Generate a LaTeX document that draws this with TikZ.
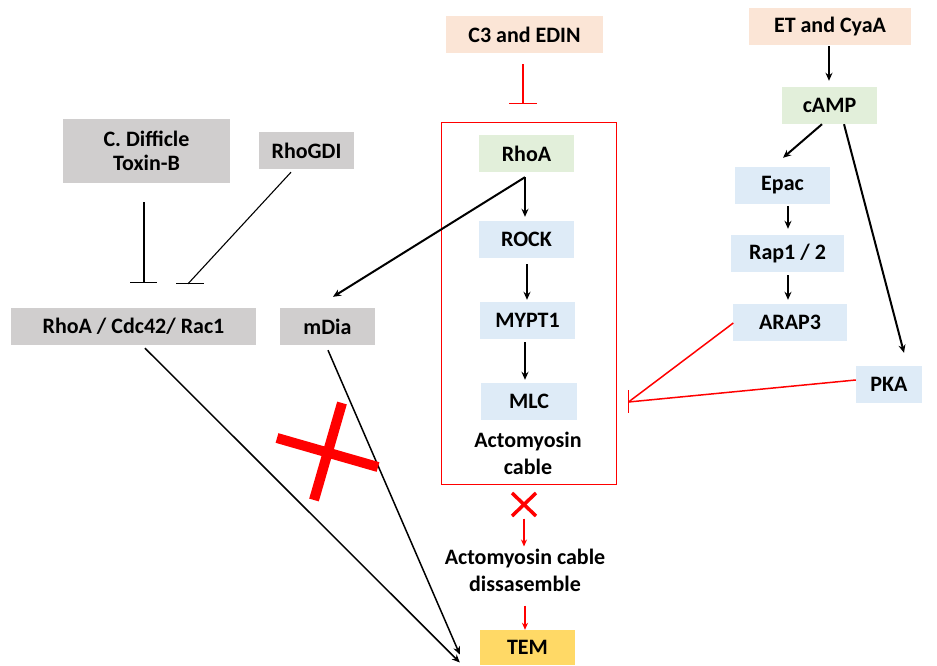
\documentclass[tikz,border=0pt]{standalone}
\usepackage{fontspec}
\setmainfont{Carlito}
\usetikzlibrary{arrows.meta}
\definecolor{gbox}{HTML}{D0CECE}
\definecolor{pbox}{HTML}{FBE5D6}
\definecolor{grbox}{HTML}{E2EFDA}
\definecolor{bbox}{HTML}{DEEBF7}
\definecolor{ybox}{HTML}{FFD966}
\definecolor{myred}{HTML}{FF0000}
\begin{document}
\begin{tikzpicture}[x=1pt,y=-1pt,
  box/.style={inner sep=0pt, minimum height=37pt, font=\fontsize{22}{24}\selectfont\bfseries, align=center},
  lbl/.style={inner sep=0pt, font=\fontsize{22}{27}\selectfont\bfseries, align=center},
  arr/.style={-{Stealth[length=8pt,width=7pt]}, line width=2pt},
  tarr/.style={-{Stealth[length=8pt,width=7pt]}, line width=1.5pt},
  rarr/.style={-{Stealth[length=7pt,width=6pt]}, line width=1.4pt, myred},
  inh/.style={line width=1.1pt},
  rinh/.style={line width=1.5pt, myred},
  bigx/.style={line width=10pt, myred},
  smallx/.style={line width=3.5pt, myred}
]
\useasboundingbox (0,0) rectangle (937,666);
% boxes
\node[box, fill=gbox, minimum width=167pt, minimum height=64pt] (tox) at (146.5,151) {C. Difficle\\Toxin-B};
\node[box, fill=gbox, minimum width=95pt] (gdi) at (306.5,150.5) {RhoGDI};
\node[box, fill=gbox, minimum width=245pt] (rcr) at (133.5,326.5) {RhoA / Cdc42/ Rac1};
\node[box, fill=gbox, minimum width=95pt] (mdia) at (327.5,326.5) {mDia};
\node[box, fill=pbox, minimum width=157pt] (c3) at (524.5,34.5) {C3 and EDIN};
\node[box, fill=grbox, minimum width=95pt] (rhoa) at (526.5,153.5) {RhoA};
\node[box, fill=bbox, minimum width=95pt] (rock) at (526.5,239.5) {ROCK};
\node[box, fill=bbox, minimum width=95pt] (mypt) at (527.5,320.5) {MYPT1};
\node[box, fill=bbox, minimum width=96pt] (mlc) at (529,401.5) {MLC};
\node[lbl] (acto) at (528,453) {Actomyosin\\cable};
\node[draw=myred, line width=1pt, inner sep=0pt, minimum width=175pt, minimum height=361pt] (frame) at (528.5,303.5) {};
\node[box, fill=pbox, minimum width=162pt] (et) at (830,26.5) {ET and CyaA};
\node[box, fill=grbox, minimum width=95pt] (camp) at (829.5,105.5) {cAMP};
\node[box, fill=bbox, minimum width=95pt] (epac) at (782.5,185.5) {Epac};
\node[box, fill=bbox, minimum width=113pt] (rap) at (787.5,253.5) {Rap1 / 2};
\node[box, fill=bbox, minimum width=114pt] (arap) at (790,322.5) {ARAP3};
\node[box, fill=bbox, minimum width=66pt] (pka) at (889,384.5) {PKA};
\node[lbl] (diss) at (525,570) {Actomyosin cable\\dissasemble};
\node[box, fill=ybox, minimum width=95pt, minimum height=35pt] (tem) at (527.5,647.5) {TEM};

% free ends
\coordinate (toxend) at ([xshift=10.5pt,yshift=25pt]rcr.north);
\coordinate (gdiend) at ([xshift=54.5pt,yshift=24pt]rcr.north);
\coordinate (c3end) at ([xshift=-5.5pt,yshift=19pt]frame.north);
\coordinate (inhend) at ([xshift=12pt,yshift=-98.5pt]frame.east);
\coordinate (xc) at ([xshift=-4.5pt,yshift=-20pt]frame.south);

% left inhibitions
\draw[inh] ([xshift=-2.5pt,yshift=-19pt]tox.south) -- (toxend);
\draw[inh] (toxend) ++(-14,0) -- ++(27,0);
\draw[inh] ([xshift=-15.5pt,yshift=-3pt]gdi.south) -- (gdiend);
\draw[inh] (gdiend) ++(-12,0) -- ++(28,0);

% RhoA pathway
\draw[arr] ([xshift=-1.5pt,yshift=-5pt]rhoa.south) -- ([xshift=5.5pt,yshift=11pt]mdia.north);
\draw[arr] ([xshift=-1.5pt,yshift=-5pt]rhoa.south) -- ([xshift=-1.5pt,yshift=4pt]rock.north);
\draw[arr] ([xshift=0.5pt,yshift=-6pt]rock.south) -- ([xshift=-0.5pt,yshift=2pt]mypt.north);
\draw[arr] ([xshift=-2.5pt,yshift=-3pt]mypt.south) -- ([xshift=-4pt,yshift=3pt]mlc.north);

% C3 inhibition
\draw[rinh] ([xshift=-1.5pt,yshift=-11pt]c3.south) -- (c3end);
\draw[rinh] (c3end) ++(-14,0) -- ++(28,0);

% cAMP pathway
\draw[arr] ([xshift=-1pt,yshift=-1pt]et.south) -- ([xshift=-0.5pt,yshift=6pt]camp.north);
\draw[arr] ([xshift=-7.5pt,yshift=0pt]camp.south) -- ([xshift=0.5pt,yshift=9pt]epac.north);
\draw[arr] ([xshift=5.5pt,yshift=-2pt]epac.south) -- ([xshift=0.5pt,yshift=6pt]rap.north);
\draw[arr] ([xshift=0.5pt,yshift=-3pt]rap.south) -- ([xshift=-2pt,yshift=4pt]arap.north);
\draw[arr] ([xshift=14.5pt,yshift=0pt]camp.south) -- ([xshift=15pt,yshift=13pt]pka.north);

% red inhibitions onto frame
\draw[rinh] ([xshift=0.5pt,yshift=-0.5pt]arap.west) -- (inhend);
\draw[rinh] ([xshift=0pt,yshift=4.5pt]pka.west) -- (inhend);
\draw[rinh] (inhend) ++(0,-12) -- ++(0,23);

% lower part
\draw[smallx] ([xshift=-12pt,yshift=11.5pt]xc) -- ([xshift=12pt,yshift=-11.5pt]xc);
\draw[smallx] ([xshift=12pt,yshift=11.5pt]xc) -- ([xshift=-12pt,yshift=-11.5pt]xc);
\draw[rarr] ([xshift=-4.5pt,yshift=-34pt]frame.south) -- ([xshift=-1pt,yshift=2pt]diss.north);
\draw[rarr] ([yshift=-14pt]diss.south) -- ([xshift=-2.5pt]tem.north);
\draw[tarr] ([xshift=0.5pt,yshift=-5pt]mdia.south) -- ([xshift=-20pt,yshift=-7pt]tem.west);
\draw[tarr] ([xshift=11.5pt,yshift=-3pt]rcr.south) -- ([xshift=-20pt,yshift=-15pt]tem.west);

% big red cross
\draw[bigx] (277,438) -- (378,467);
\draw[bigx] (342,403) -- (314,500);
\end{tikzpicture}
\end{document}
